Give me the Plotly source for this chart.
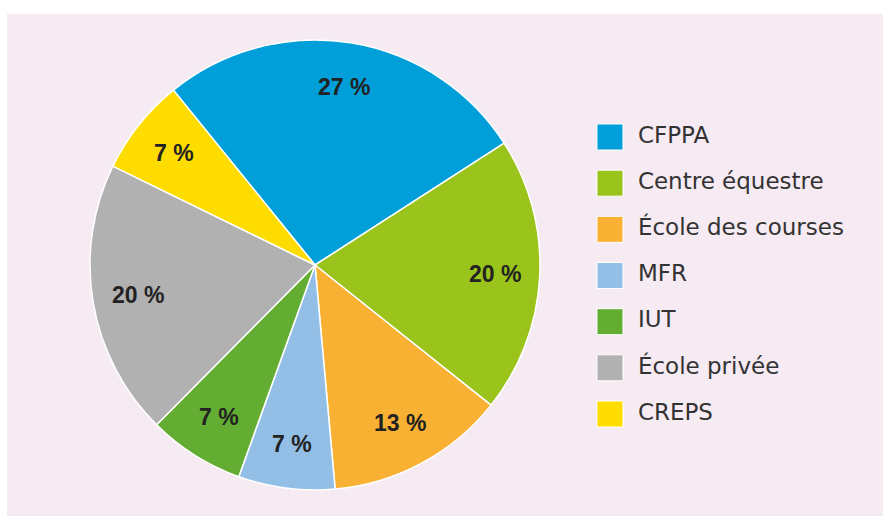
import math
import plotly.graph_objects as go

categories = ["CFPPA", "Centre équestre", "École des courses", "MFR", "IUT", "École privée", "CREPS"]
percentages = [27, 20, 13, 7, 7, 20, 7]
colors = ["#009FDA", "#9AC31C", "#F8B133", "#93BFE7", "#63AD32", "#B1B1B1", "#FFDC00"]

W, H = 883, 516
ROTATION = -39
pie_x = [90 / W, 540 / W]
pie_y = [1 - 490 / H, 1 - 40 / H]

fig = go.Figure()

fig.add_trace(go.Pie(
    labels=categories,
    values=percentages,
    textinfo="none",
    sort=False,
    direction="clockwise",
    rotation=ROTATION,
    marker=dict(colors=colors, line=dict(color="white", width=1.5)),
    domain=dict(x=pie_x, y=pie_y),
    showlegend=False,
    hoverinfo="label+percent",
))

# percentage labels placed along each slice's mid-angle
cx = (pie_x[0] + pie_x[1]) / 2 * W
cy = (1 - (pie_y[0] + pie_y[1]) / 2) * H
R = (pie_y[1] - pie_y[0]) * H / 2
total = sum(percentages)
annotations = []
start = ROTATION
for v in percentages:
    span = v / total * 360
    mid = math.radians(start + span / 2)
    px = cx + 0.8 * R * math.sin(mid)
    py = cy - 0.8 * R * math.cos(mid)
    annotations.append(dict(
        x=px / W, y=1 - py / H, xref="paper", yref="paper", showarrow=False,
        text=f"{v} %", xanchor="center", yanchor="middle",
        font=dict(family="Liberation Sans", size=23, color="#222222", weight="bold"),
    ))
    start += span

idx = list(range(len(categories)))
# legend swatches
fig.add_trace(go.Scatter(
    x=[0.227] * len(categories), y=idx, mode="markers",
    marker=dict(symbol="square", size=26, color=colors, line=dict(color="white", width=1)),
    xaxis="x", yaxis="y", showlegend=False, hoverinfo="skip",
))
fig.add_trace(go.Scatter(
    x=[0.306] * len(categories), y=idx, mode="text", text=categories,
    textposition="middle right",
    textfont=dict(family="DejaVu Sans", size=23, color="#333333"),
    xaxis="x", yaxis="y", showlegend=False, hoverinfo="skip",
))

fig.update_layout(
    width=W, height=H,
    margin=dict(l=0, r=0, t=0, b=0),
    paper_bgcolor="white",
    plot_bgcolor="rgba(0,0,0,0)",
    xaxis=dict(domain=[0.6, 1.0], range=[0, 1], visible=False, fixedrange=True),
    yaxis=dict(domain=[1 - 437.1 / H, 1 - 113.9 / H], range=[6.5, -0.5], visible=False, fixedrange=True),
    shapes=[dict(type="rect", xref="paper", yref="paper", x0=7 / W, x1=1, y0=0, y1=1 - 14 / H,
                 fillcolor="#F6EAF3", line=dict(width=0), layer="below")],
    annotations=annotations,
)

fig.write_html("out.html", config={"displayModeBar": False},
               post_script="document.body.style.margin='0';")
